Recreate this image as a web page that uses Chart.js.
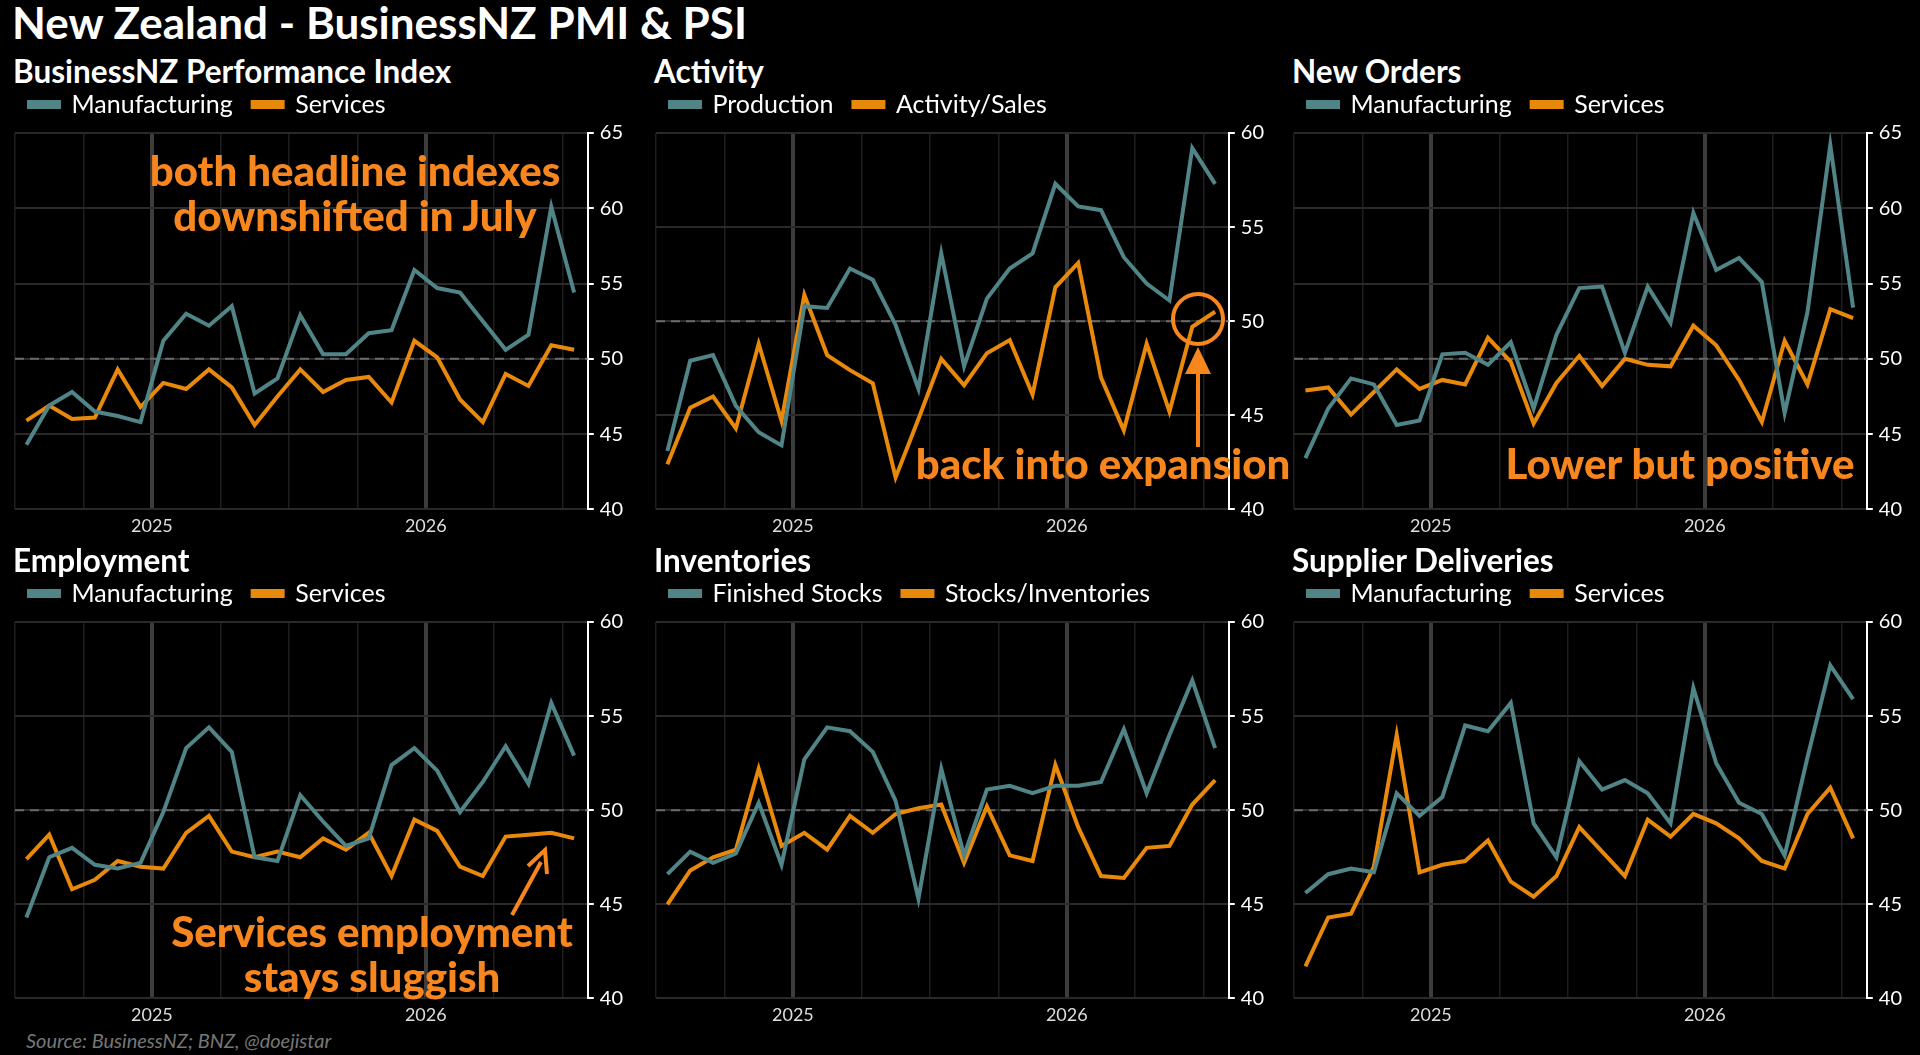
<!DOCTYPE html>
<html>
<head>
<meta charset="utf-8">
<script src="https://cdn.jsdelivr.net/npm/chart.js@4/dist/chart.umd.min.js"></script>
<style>
  html, body { margin: 0; padding: 0; background: #000; }
  body { width: 1920px; height: 1055px; position: relative; overflow: hidden; font-family: Lato, "DejaVu Sans", sans-serif; color: #fff; }
  .abs { position: absolute; }
  #title { left: 12px; top: -4px; font-size: 44px; font-weight: bold; white-space: nowrap; }
  .ptitle { font-size: 31.5px; font-weight: bold; white-space: nowrap; }
  .note { color: #F7861E; font-weight: 900; font-size: 42px; text-align: center; white-space: nowrap; line-height: 45px; }
  #source { left: 26px; top: 1028px; font-size: 20px; font-style: italic; color: #777; }
  canvas { position: absolute; }
  svg { position: absolute; left: 0; top: 0; }
</style>
</head>
<body>
<div id="title" class="abs">New Zealand - BusinessNZ PMI &amp; PSI</div>
<div id="source" class="abs">Source: BusinessNZ; BNZ, @doejistar</div>

<script>
// months Jul 2024 .. Jul 2026 (index 0..24); year lines fall between Dec and Jan
const yearTicks = [5.5, 17.5];
const yearLabels = ['2025', '2026'];

const pmiManu = [44.3, 46.9, 47.8, 46.5, 46.2, 45.8, 51.2, 53.0, 52.2, 53.5, 47.7, 48.7, 52.9, 50.3, 50.3, 51.7, 51.9, 55.9, 54.7, 54.4, 52.5, 50.6, 51.6, 60.1, 54.4];
const psiServ = [45.9, 46.9, 46.0, 46.1, 49.3, 46.8, 48.4, 48.0, 49.3, 48.1, 45.6, 47.5, 49.3, 47.8, 48.6, 48.8, 47.1, 51.2, 50.1, 47.3, 45.8, 49.0, 48.2, 50.9, 50.6];

const production = [43.1, 47.9, 48.2, 45.5, 44.1, 43.4, 50.8, 50.7, 52.8, 52.2, 49.8, 46.4, 53.6, 47.6, 51.2, 52.8, 53.6, 57.3, 56.1, 55.9, 53.4, 52.0, 51.1, 59.2, 57.3];
const activitySales = [42.4, 45.4, 46.0, 44.3, 48.8, 44.7, 51.4, 48.2, 47.4, 46.7, 41.7, 44.8, 48.0, 46.6, 48.3, 49.0, 46.1, 51.8, 53.1, 47.0, 44.2, 48.8, 45.2, 49.7, 50.5];

const ordersManu = [43.4, 46.7, 48.7, 48.3, 45.6, 45.9, 50.3, 50.4, 49.6, 51.1, 46.7, 51.6, 54.7, 54.8, 50.4, 54.8, 52.4, 59.7, 55.9, 56.7, 55.1, 46.4, 53.1, 64.2, 53.4];
const ordersServ = [47.9, 48.1, 46.3, 47.8, 49.3, 48.0, 48.6, 48.3, 51.4, 49.8, 45.7, 48.4, 50.2, 48.2, 50.0, 49.6, 49.5, 52.2, 50.9, 48.6, 45.8, 51.2, 48.3, 53.3, 52.7];

const emplManu = [44.3, 47.5, 48.0, 47.1, 46.9, 47.2, 49.9, 53.3, 54.4, 53.1, 47.5, 47.3, 50.8, 49.4, 48.1, 48.5, 52.4, 53.3, 52.1, 49.9, 51.5, 53.4, 51.4, 55.7, 52.9];
const emplServ = [47.4, 48.7, 45.8, 46.3, 47.3, 47.0, 46.9, 48.8, 49.7, 47.8, 47.5, 47.8, 47.5, 48.5, 47.9, 48.8, 46.5, 49.5, 48.9, 47.0, 46.5, 48.6, 48.7, 48.8, 48.5];

const finishedStocks = [46.6, 47.8, 47.2, 47.7, 50.4, 47.1, 52.7, 54.4, 54.2, 53.1, 50.5, 45.3, 52.2, 47.6, 51.1, 51.3, 50.9, 51.3, 51.3, 51.5, 54.3, 50.9, 54.0, 56.9, 53.3];
const stocksInv = [45.0, 46.8, 47.5, 47.9, 52.2, 48.1, 48.8, 47.9, 49.7, 48.8, 49.8, 50.1, 50.3, 47.2, 50.2, 47.6, 47.3, 52.4, 49.1, 46.5, 46.4, 48.0, 48.1, 50.3, 51.6];

const delivManu = [45.6, 46.6, 46.9, 46.7, 50.9, 49.7, 50.7, 54.5, 54.2, 55.7, 49.3, 47.5, 52.6, 51.1, 51.6, 50.9, 49.3, 56.5, 52.5, 50.4, 49.8, 47.6, 52.8, 57.7, 55.9];
const delivServ = [41.7, 44.3, 44.5, 47.0, 54.0, 46.7, 47.1, 47.3, 48.4, 46.2, 45.4, 46.5, 49.1, 47.8, 46.5, 49.5, 48.6, 49.8, 49.3, 48.5, 47.3, 46.9, 49.8, 51.2, 48.5];

const TEAL = '#508487';
const ORANGE = '#E8890C';

const panels = [
  { title: 'BusinessNZ Performance Index', names: ['Manufacturing', 'Services'], a: pmiManu, b: psiServ, min: 40, max: 65, left: 15, top: 132 },
  { title: 'Activity', names: ['Production', 'Activity/Sales'], a: production, b: activitySales, min: 40, max: 60, left: 656, top: 132 },
  { title: 'New Orders', names: ['Manufacturing', 'Services'], a: ordersManu, b: ordersServ, min: 40, max: 65, left: 1294, top: 132 },
  { title: 'Employment', names: ['Manufacturing', 'Services'], a: emplManu, b: emplServ, min: 40, max: 60, left: 15, top: 621 },
  { title: 'Inventories', names: ['Finished Stocks', 'Stocks/Inventories'], a: finishedStocks, b: stocksInv, min: 40, max: 60, left: 656, top: 621 },
  { title: 'Supplier Deliveries', names: ['Manufacturing', 'Services'], a: delivManu, b: delivServ, min: 40, max: 60, left: 1294, top: 621 }
];

const PLOT_H = 377;
const XMIN = -0.5, XMAX = 24.6;

function toXY(arr) { return arr.map((v, i) => ({ x: i, y: v })); }

// extra space under the legend without moving the legend text
const legendGap = {
  id: 'legendGap',
  beforeInit(chart) {
    const fit = chart.legend.fit;
    chart.legend.fit = function() { fit.call(this); this.height += 6; };
  }
};

panels.forEach(p => {
  const t = document.createElement('div');
  t.className = 'abs ptitle';
  t.textContent = p.title;
  t.style.left = (p.left - 2) + 'px';
  t.style.top = (p.top - 80) + 'px';
  document.body.appendChild(t);

  const cv = document.createElement('canvas');
  const cTop = p.top - 60, cLeft = p.left - 6;
  const h = PLOT_H + 60 + 34;
  cv.style.left = cLeft + 'px';
  cv.style.top = cTop + 'px';
  cv.style.width = '620px';
  cv.style.height = h + 'px';
  cv.width = 620; cv.height = h;
  document.body.appendChild(cv);

  const steps = [];
  for (let v = p.min; v <= p.max; v += 5) steps.push(v);

  new Chart(cv, {
    type: 'line',
    data: {
      datasets: [
        { label: p.names[0], data: toXY(p.a), borderColor: TEAL, backgroundColor: TEAL, borderWidth: 4, pointRadius: 0, tension: 0 },
        { label: p.names[1], data: toXY(p.b), borderColor: ORANGE, backgroundColor: ORANGE, borderWidth: 4, pointRadius: 0, tension: 0 },
        { label: 'ref', data: [{ x: XMIN, y: 50 }, { x: XMAX, y: 50 }], borderColor: '#6a6a6a', borderWidth: 2, borderDash: [9, 6], pointRadius: 0 }
      ]
    },
    plugins: [legendGap],
    options: {
      responsive: false,
      animation: false,
      layout: { padding: { left: 0, right: 0, top: 0, bottom: 0 } },
      plugins: {
        tooltip: { enabled: false },
        legend: {
          position: 'top', align: 'start',
          labels: {
            color: '#fff', font: { family: 'Lato', size: 25 }, boxWidth: 30, boxHeight: 5, padding: 20,
            filter: item => item.text !== 'ref'
          }
        }
      },
      scales: {
        x: {
          type: 'linear', min: XMIN, max: XMAX,
          afterBuildTicks: axis => {
            const ticks = [];
            for (let v = XMIN; v <= XMAX; v += 3) ticks.push({ value: v });
            axis.ticks = ticks;
          },
          ticks: {
            color: '#ddd', font: { family: 'Lato', size: 18 }, maxRotation: 0, autoSkip: false, padding: 6,
            callback: v => { const i = yearTicks.indexOf(v); return i >= 0 ? yearLabels[i] : ''; }
          },
          grid: {
            color: c => yearTicks.includes(c.tick && c.tick.value) ? '#3c3c3c' : '#1e1e1e',
            lineWidth: c => yearTicks.includes(c.tick && c.tick.value) ? 4 : 1.5,
            drawTicks: false
          },
          border: { display: false }
        },
        y: {
          position: 'right', min: p.min, max: p.max,
          afterBuildTicks: axis => { axis.ticks = steps.map(v => ({ value: v })); },
          ticks: { color: '#fff', font: { family: 'Lato', size: 20 }, padding: 6 },
          grid: { color: '#2a2a2a', lineWidth: 2, tickColor: '#fff', tickLength: 6 },
          border: { display: true, color: '#fff', width: 2 }
        }
      }
    }
  });
});

// annotation text
const notes = [
  { text: 'both headline indexes<br>downshifted in July', cx: 355, top: 148 },
  { text: 'back into expansion', cx: 1103, top: 441 },
  { text: 'Lower but positive', cx: 1680, top: 441 },
  { text: 'Services employment<br>stays sluggish', cx: 372, top: 909 }
];
notes.forEach(n => {
  const d = document.createElement('div');
  d.className = 'abs note';
  d.innerHTML = n.text;
  d.style.left = n.cx + 'px';
  d.style.top = n.top + 'px';
  d.style.transform = 'translateX(-50%)';
  document.body.appendChild(d);
});
</script>
<svg width="1920" height="1055">
  <circle cx="1198" cy="319" r="25" fill="none" stroke="#F7861E" stroke-width="4"/>
  <line x1="1198" y1="447" x2="1198" y2="372" stroke="#F7861E" stroke-width="4"/>
  <polygon points="1198,347 1185,374 1211,374" fill="#F7861E"/>
  <line x1="512" y1="915" x2="541" y2="862" stroke="#F7861E" stroke-width="4"/>
  <polyline points="528,866 545,850 547,874" fill="none" stroke="#F7861E" stroke-width="4"/>
</svg>
</body>
</html>
